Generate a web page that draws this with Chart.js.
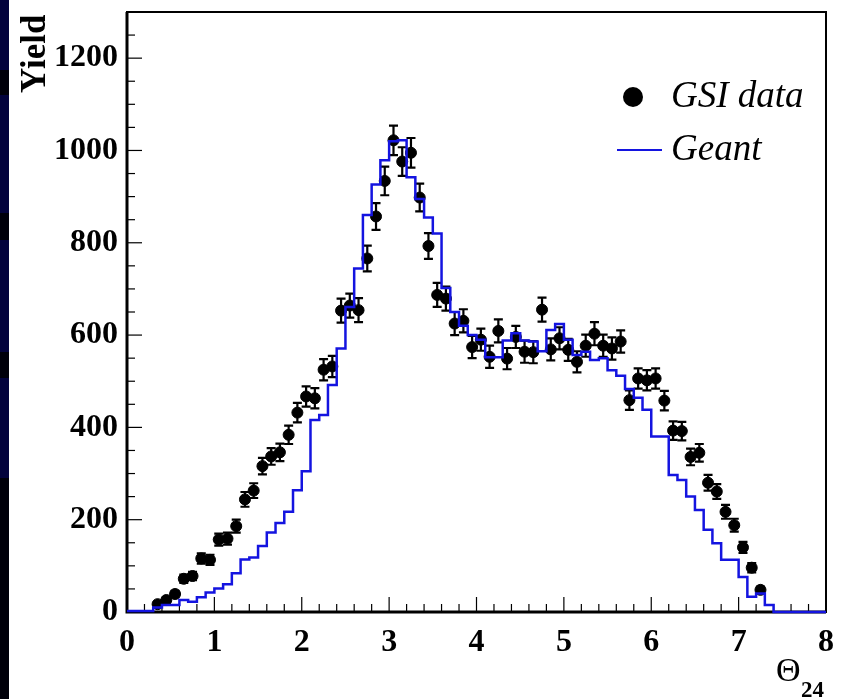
<!DOCTYPE html>
<html>
<head>
<meta charset="utf-8">
<script src="https://cdn.jsdelivr.net/npm/chart.js@4.4.0/dist/chart.umd.min.js"></script>
<style>
  html, body { margin: 0; padding: 0; background: #fff; }
</style>
</head>
<body>
<canvas id="c" width="841" height="699"></canvas>
<script>
// Geant histogram, bins of 0.1 from 0 to 8
const binWidth = 0.1;
const geantYield = [
  2, 2, 2, 10, 15, 15, 26, 22, 32, 42,
  51, 60, 84, 114, 118, 143, 172, 193, 217, 264,
  305, 416, 427, 492, 571, 661, 744, 860, 926, 979,
  1020, 1022, 942, 895, 855, 820, 702, 650, 620, 600,
  590, 552, 552, 588, 604, 588, 586, 565, 611, 624,
  590, 557, 564, 546, 550, 524, 512, 483, 464, 438,
  380, 380, 297, 286, 250, 221, 178, 149, 113, 113,
  76, 33, 40, 15, 0, 0, 0, 0, 0, 0
];

// GSI data points (bin centres), yields and errors
const gsiTheta = [
  0.35, 0.45, 0.55, 0.65, 0.75, 0.85, 0.95, 1.05, 1.15, 1.25,
  1.35, 1.45, 1.55, 1.65, 1.75, 1.85, 1.95, 2.05, 2.15, 2.25,
  2.35, 2.45, 2.55, 2.65, 2.75, 2.85, 2.95, 3.05, 3.15, 3.25,
  3.35, 3.45, 3.55, 3.65, 3.75, 3.85, 3.95, 4.05, 4.15, 4.25,
  4.35, 4.45, 4.55, 4.65, 4.75, 4.85, 4.95, 5.05, 5.15, 5.25,
  5.35, 5.45, 5.55, 5.65, 5.75, 5.85, 5.95, 6.05, 6.15, 6.25,
  6.35, 6.45, 6.55, 6.65, 6.75, 6.85, 6.95, 7.05, 7.15, 7.25
];
const gsiYield = [
  17, 26, 39, 72, 78, 116, 113, 157, 159, 186,
  244, 263, 316, 337, 346, 384, 432, 467, 463, 525,
  532, 653, 664, 654, 766, 857, 934, 1022, 976, 995,
  898, 793, 687, 679, 625, 631, 574, 590, 553, 609,
  549, 596, 564, 563, 655, 569, 593, 568, 542, 577,
  603, 577, 571, 586, 459, 506, 502, 506, 458, 393,
  392, 336, 345, 280, 261, 217, 188, 140, 96, 48
];
const gsiError = [
  5, 6, 7, 9, 9, 11, 11, 13, 13, 14,
  16, 16, 18, 18, 19, 20, 21, 22, 22, 23,
  23, 26, 26, 26, 28, 29, 31, 32, 31, 32,
  30, 28, 26, 26, 25, 25, 24, 24, 24, 25,
  23, 24, 24, 24, 26, 24, 24, 24, 23, 24,
  25, 24, 24, 24, 21, 22, 22, 22, 21, 20,
  20, 18, 19, 17, 16, 15, 14, 12, 10, 7
];

const xTicks = [0, 1, 2, 3, 4, 5, 6, 7, 8];
const yTicks = [0, 200, 400, 600, 800, 1000, 1200];

const serif = '"Liberation Serif", "Times New Roman", serif';

// step line: value of each bin held from its lower edge, closed at x = 8
const geantPoints = geantYield.map((v, i) => ({ x: +(i * binWidth).toFixed(1), y: v }));
geantPoints.push({ x: 8, y: geantYield[geantYield.length - 1] });

const gsiPoints = gsiTheta.map((t, i) => ({ x: t, y: gsiYield[i] }));

function noPad(s) {
  s.paddingLeft = 0;
  s.paddingRight = 0;
  s.paddingTop = 0;
  s.paddingBottom = 0;
}

const rootStyle = {
  id: 'rootStyle',
  beforeDraw(chart) {
    const ctx = chart.ctx;
    ctx.save();
    ctx.fillStyle = '#fff';
    ctx.fillRect(0, 0, chart.width, chart.height);
    // slide background strip on the left
    ctx.fillStyle = '#03033d';
    ctx.fillRect(0, 0, 9, chart.height);
    ctx.fillStyle = '#00000a';
    [[70, 25], [213, 27], [352, 26], [478, 221]].forEach(([y0, h]) => ctx.fillRect(0, y0, 9, h));
    ctx.restore();
  },
  beforeDatasetsDraw(chart) {
    const { ctx, chartArea: a, scales: { x, y } } = chart;
    ctx.save();
    ctx.strokeStyle = '#000';
    ctx.lineWidth = 1.2;
    // inward ticks
    for (let k = 0; k <= 40; k++) {
      const px = x.getPixelForValue(k * 0.2);
      const len = k % 5 === 0 ? 15 : 8;
      ctx.beginPath();
      ctx.moveTo(px, a.bottom);
      ctx.lineTo(px, a.bottom - len);
      ctx.stroke();
    }
    for (let k = 0; k <= 26; k++) {
      const py = y.getPixelForValue(k * 50);
      const len = k % 4 === 0 ? 15 : 8;
      ctx.beginPath();
      ctx.moveTo(a.left, py);
      ctx.lineTo(a.left + len, py);
      ctx.stroke();
    }
    // frame
    ctx.lineWidth = 2;
    ctx.strokeRect(a.left, a.top, a.right - a.left, a.bottom - a.top);
    ctx.lineWidth = 3;
    ctx.beginPath();
    ctx.moveTo(a.left, a.top);
    ctx.lineTo(a.left, a.bottom);
    ctx.lineTo(a.right, a.bottom);
    ctx.stroke();

    // error bars for GSI data
    ctx.lineWidth = 2.2;
    gsiTheta.forEach((t, i) => {
      const px = x.getPixelForValue(t);
      const lo = y.getPixelForValue(gsiYield[i] - gsiError[i]);
      const hi = y.getPixelForValue(gsiYield[i] + gsiError[i]);
      ctx.beginPath();
      ctx.moveTo(px, lo);
      ctx.lineTo(px, hi);
      ctx.moveTo(px - 4.5, lo);
      ctx.lineTo(px + 4.5, lo);
      ctx.moveTo(px - 4.5, hi);
      ctx.lineTo(px + 4.5, hi);
      ctx.stroke();
    });
    ctx.restore();
  },
  afterDraw(chart) {
    const ctx = chart.ctx;
    ctx.save();
    ctx.fillStyle = '#000';
    // y title
    ctx.font = 'bold 35px ' + serif;
    ctx.translate(45, 93);
    ctx.rotate(-Math.PI / 2);
    ctx.textBaseline = 'alphabetic';
    ctx.fillText('Yield', 0, 0);
    ctx.restore();

    ctx.save();
    ctx.fillStyle = '#000';
    ctx.textBaseline = 'alphabetic';
    ctx.font = '34px ' + serif;
    ctx.fillText('\u0398', 776, 681);
    ctx.font = 'bold 23px ' + serif;
    ctx.fillText('24', 801, 697);

    // legend
    const ds = chart.data.datasets;
    ctx.beginPath();
    ctx.arc(633, 97, 10, 0, Math.PI * 2);
    ctx.fill();
    ctx.strokeStyle = ds[1].borderColor;
    ctx.lineWidth = 2;
    ctx.beginPath();
    ctx.moveTo(617, 150);
    ctx.lineTo(662, 150);
    ctx.stroke();
    ctx.font = 'italic 37px ' + serif;
    ctx.textBaseline = 'middle';
    ctx.fillText(ds[0].label, 671, 97);
    ctx.fillText(ds[1].label, 671, 150);
    ctx.restore();
  }
};

new Chart(document.getElementById('c'), {
  type: 'scatter',
  data: {
    datasets: [
      {
        label: 'GSI data',
        data: gsiPoints,
        backgroundColor: '#000',
        borderColor: '#000',
        pointRadius: 5.5,
        pointHoverRadius: 5.5,
        order: 2
      },
      {
        type: 'line',
        label: 'Geant',
        data: geantPoints,
        stepped: 'before',
        borderColor: '#1414e0',
        borderWidth: 2.5,
        pointRadius: 0,
        fill: false,
        clip: false,
        order: 1
      }
    ]
  },
  options: {
    responsive: false,
    animation: false,
    devicePixelRatio: 1,
    layout: { padding: { top: 12, right: 15, left: 0, bottom: 0 } },
    plugins: { legend: { display: false }, tooltip: { enabled: false } },
    scales: {
      x: {
        type: 'linear',
        min: 0,
        max: 8,
        afterFit(s) { s.height = 87; noPad(s); },
        afterBuildTicks(s) { s.ticks = xTicks.map(v => ({ value: v })); },
        grid: { display: false, drawTicks: false },
        border: { display: false },
        ticks: {
          padding: 12,
          color: '#000',
          maxRotation: 0,
          autoSkip: false,
          callback: v => String(v),
          font: { family: serif, size: 32, weight: 'bold' }
        }
      },
      y: {
        type: 'linear',
        min: 0,
        max: 1300,
        afterFit(s) { s.width = 127; noPad(s); },
        afterBuildTicks(s) { s.ticks = yTicks.map(v => ({ value: v })); },
        grid: { display: false, drawTicks: false },
        border: { display: false },
        ticks: {
          padding: 9,
          color: '#000',
          autoSkip: false,
          callback: v => String(v),
          font: { family: serif, size: 32, weight: 'bold' }
        }
      }
    }
  },
  plugins: [rootStyle]
});
</script>
</body>
</html>
